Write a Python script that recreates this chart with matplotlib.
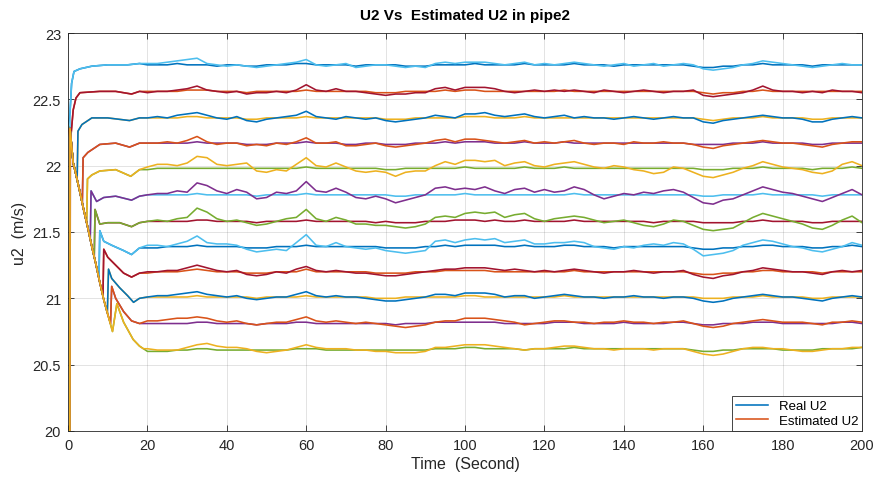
#!/usr/bin/env python3
"""Real vs estimated U2 in pipe2 (MATLAB-style line chart)."""

import numpy as np
import matplotlib
matplotlib.use('Agg')
import matplotlib.pyplot as plt

plt.rcParams['font.family'] = ['Liberation Sans', 'DejaVu Sans']

# MATLAB default colour order
MATLAB_COLORS = ['#0072BD', '#D95319', '#EDB120', '#7E2F8E',
                 '#77AC30', '#4DBEEE', '#A2142F']

# Settled value of each of the 12 velocity pairs (m/s)
LEVELS = [22.76, 22.56, 22.36, 22.17, 21.98, 21.78,
          21.58, 21.39, 21.20, 21.01, 20.82, 20.62]

# Shared falling start-up band (all lower curves ride it before jumping up)
BAND_T = [0, 0.5, 1.3, 1.8, 3, 4, 5, 6, 7, 8, 9, 10]
BAND_V = [22.30, 22.28, 22.02, 21.96, 21.80, 21.66, 21.53, 21.39, 21.26, 21.12, 20.99, 20.88]

# How many band points each level follows before leaving it
DEPART = [1, 1, 3, 5, 6, 7, 8, 9, 10, 11, 12, 12]

# Start-up tail of each level after it leaves the band (t < 20 s)
TAIL_T = [
    [0.5, 0.9, 1.5, 3, 6, 10, 15, 18],
    [0.6, 1.3, 2, 3, 8, 12, 16, 18],
    [2.3, 2.5, 3.5, 6, 10, 15.5, 18],
    [3.6, 3.8, 5, 8, 12, 15.5, 18],
    [4.7, 4.9, 6, 8, 12, 15.8, 18],
    [5.6, 5.8, 7.2, 9, 12, 16, 18],
    [6.6, 6.8, 8, 10, 13, 16, 18],
    [7.8, 8.0, 9, 11, 14, 16, 18],
    [8.8, 9.0, 10, 12, 14, 16, 18],
    [9.9, 10.2, 11, 13, 15, 16.5, 18],
    [10.7, 11.0, 12, 14, 16, 18],
    [11.2, 12.3, 14, 16.4, 18, 19],
]
TAIL_V = [
    [22.40, 22.62, 22.71, 22.73, 22.75, 22.76, 22.76, 22.77],
    [22.18, 22.42, 22.51, 22.55, 22.56, 22.56, 22.54, 22.56],
    [21.90, 22.26, 22.31, 22.36, 22.36, 22.34, 22.36],
    [21.72, 22.06, 22.10, 22.16, 22.17, 22.14, 22.17],
    [21.57, 21.90, 21.93, 21.96, 21.97, 21.92, 21.97],
    [21.45, 21.81, 21.73, 21.76, 21.77, 21.74, 21.77],
    [21.31, 21.67, 21.56, 21.57, 21.57, 21.54, 21.57],
    [21.15, 21.51, 21.43, 21.40, 21.36, 21.33, 21.38],
    [21.02, 21.37, 21.31, 21.25, 21.19, 21.16, 21.19],
    [20.89, 21.22, 21.15, 21.08, 21.02, 20.97, 21.00],
    [20.81, 21.09, 21.00, 20.90, 20.83, 20.81],
    [20.75, 20.96, 20.82, 20.69, 20.64, 20.62],
]

# Estimated curves sit at 20 m/s until the first sample
EST_START_T = [0, 0.45]
EST_START_V = [20.0, 20.0]

# Steady part, sampled every 2.5 s from 20 s to 200 s
STEADY_T = np.arange(20, 200.01, 2.5)

# Deviation from LEVELS in units of 0.01 m/s (real U2)
REAL_DEV = [
    [0, 0, 0, 1, 0, 0, 0, -1, 0, 0, -1, -1, 0, 0, 0, 1, 1, 0, 0, 0,
     0, -1, 0, 0, 0, 0, -1, -1, -1, 0, 0, 0, 0, 1, 0, 0, 0, 0, 1, 0,
     0, 0, 0, 1, 0, 0, 0, -1, 0, 0, 0, 0, 0, 0, 0, -1, -2, -2, -1, -1,
     0, 0, 1, 0, 0, 0, 0, -1, 0, 0, 0, 0, 0],
    [0, 0, 0, 0, 1, 1, 1, 0, 0, 0, -1, 0, 0, 0, 0, 0, 1, 0, 0, 0,
     0, 0, 0, -1, -1, -1, 0, 0, 0, 0, 1, 0, 1, 1, 0, 0, 0, 0, 0, 0,
     0, 0, 1, 0, 0, 0, 0, 0, 0, 0, 0, 0, 0, 0, 0, 0, -1, -2, -1, -1,
     0, 0, 1, 0, 0, 0, 0, 0, 0, 0, 0, 0, 0],
    [0, 0, 0, 0, 1, 1, 0, 0, 0, 0, -1, -1, 0, 0, 0, 0, 1, 0, 0, 0,
     0, 0, 0, 0, -1, -1, -1, 0, 0, 0, 0, 0, 1, 1, 1, 0, 0, 0, 1, 0,
     0, 0, 0, 0, 0, 0, 0, 0, 0, 0, 0, 0, 0, 0, 0, 0, -1, -2, -1, 0,
     0, 0, 1, 0, 0, 0, 0, -1, -1, 0, 0, 0, 0],
    [0, 0, 0, 0, 0, 1, 0, 0, 0, 0, -1, -1, -1, 0, 0, 0, 1, 0, 0, 0,
     -1, -1, 0, 0, -1, -1, -1, 0, 0, 0, 1, 0, 1, 1, 1, 0, 0, 0, 1, 0,
     0, 0, 1, 0, 0, 0, 0, 0, 0, 0, 0, 0, 0, 0, 0, -1, -1, -1, -1, 0,
     0, 0, 1, 0, 0, 0, 0, -1, -1, 0, 0, 0, 0],
    [-1, 0, 0, 0, 0, 0, 0, 0, 0, 0, 0, 0, 0, 0, 0, 0, 1, 0, 0, 0,
     0, 0, 0, 0, -1, -1, 0, 0, 0, 0, 0, 0, 1, 0, 0, 0, 0, 0, 1, 0,
     0, 0, 1, 0, 0, 0, 0, 0, 0, 0, 0, 0, 0, 0, 0, 0, -1, -1, -1, 0,
     0, 0, 1, 0, 0, 0, 0, -1, 0, 0, 0, 1, 0],
    [0, 0, 0, 0, 0, 1, 0, 0, 0, 0, 0, -1, 0, 0, 0, 0, 1, 0, 0, 0,
     0, 0, 0, 0, 0, -1, -1, 0, 0, 0, 0, 0, 1, 0, 0, 0, 0, 0, 0, 0,
     0, 0, 0, 1, 0, 0, 0, 0, 0, 0, 0, 0, 0, 0, 0, 0, -1, -1, 0, 0,
     0, 0, 1, 0, 0, 0, 0, 0, -1, 0, 0, 0, 0],
    [0, 0, 0, 0, 0, 1, 1, 0, 0, 0, 0, -1, 0, 0, 0, 0, 1, 0, 0, 0,
     0, 0, 0, -1, 0, -1, -1, -1, 0, 0, 0, 1, 1, 1, 0, 1, 0, 0, 1, 0,
     0, 0, 0, 1, 0, 0, 0, 0, 0, 0, 0, -1, 0, 0, 0, 0, -1, -1, -1, -1,
     0, 0, 1, 0, 0, 0, 0, -1, -1, 0, 0, 0, 0],
    [-1, -1, 0, 0, 0, 1, 0, 0, 0, 0, -1, -1, -1, 0, 0, 0, 1, 0, 0, 0,
     0, 0, 0, 0, -1, -1, -1, -1, 0, 0, 1, 0, 1, 1, 1, 1, 0, 0, 1, 0,
     0, 0, 1, 1, 0, 0, 0, -1, 0, 0, 0, 0, 0, 0, 0, -1, -2, -2, -1, -1,
     0, 0, 1, 1, 0, 0, 0, -1, -1, 0, 0, 1, 0],
    [-1, 0, 0, 0, 1, 2, 1, 0, 0, 0, -1, -1, -1, 0, 0, 0, 2, 0, 0, 0,
     0, 0, 0, -1, -1, -1, -1, 0, 0, 0, 1, 1, 1, 1, 1, 0, 0, 0, 0, 0,
     0, 0, 0, 1, 0, 0, 0, 0, 0, 0, 0, 0, 0, 0, 0, -1, -2, -2, -1, -1,
     0, 0, 1, 1, 0, 0, 0, 0, -1, 0, 0, 0, 0],
    [0, 0, 0, 0, 0, 1, 0, 0, 0, 0, 0, -1, 0, 0, 0, 0, 1, 0, 0, 0,
     0, 0, 0, -1, -1, -1, 0, 0, 0, 0, 0, 0, 1, 1, 0, 0, 0, 0, 0, 0,
     0, 0, 1, 0, 0, 0, 0, 0, 0, 0, 0, 0, 0, 0, 0, 0, -1, -1, -1, 0,
     0, 0, 1, 0, 0, 0, 0, -1, -1, 0, 0, 0, 0],
    [-1, -1, -1, -1, -1, 0, 0, -1, -1, -1, -1, -2, -1, -1, -1, 0, 0, -1, -1, -1,
     -1, -1, -1, -1, -1, -2, -1, -1, -1, 0, 0, 0, 0, 0, 0, 0, -1, -1, -1, -1,
     -1, 0, 0, 0, -1, -1, -1, -1, 0, -1, -1, -1, -1, 0, 0, -1, -2, -2, -1, -1,
     -1, 0, 0, 0, -1, -1, -1, -1, -1, -1, 0, 0, -1],
    [-2, -2, -2, -1, -1, 0, 0, -1, -1, -1, -1, -1, -1, -1, -1, 0, 0, 0, -1, -1,
     -1, -1, -1, -1, -1, -1, -1, -1, -1, 0, 0, 0, 1, 1, 0, 0, 0, 0, -1, 0,
     0, 0, 0, 1, 0, 0, 0, 0, 0, 0, 0, 0, 0, 0, 0, -1, -2, -2, -1, -1,
     0, 0, 0, 0, -1, -1, -1, -1, 0, 0, 0, 0, 1],
]

# Deviation from LEVELS in units of 0.01 m/s (estimated U2)
EST_DEV = [
    [1, 1, 2, 3, 4, 5, 1, 0, -1, 0, -1, -2, -1, 0, 1, 2, 4, 0, -1, 0,
     1, -2, -1, 0, 0, -1, -2, -1, -2, 1, 2, 1, 2, 2, 2, 1, 0, 1, 2, 0,
     1, 0, 1, 2, 1, 0, -1, 0, 1, -1, 0, 1, -1, 0, 1, 0, -3, -4, -3, -2,
     0, 1, 3, 2, 1, 0, -1, -2, -1, 0, 1, 0, 0],
    [-1, 0, 0, 1, 2, 4, 1, 0, -1, 0, -2, -1, -1, 0, -1, 1, 5, 1, 0, 2,
     0, 0, -1, -2, -3, -2, -2, -1, -1, 2, 3, 1, 3, 3, 3, 2, 0, -1, 0, 1,
     0, 1, 0, 1, 0, -1, 1, 0, -1, 0, 1, 0, -1, 0, 0, 1, -3, -4, -3, -2,
     -1, 1, 4, 1, 0, 0, -1, 0, -1, 1, 0, 0, -1],
    [0, 1, 0, 2, 3, 4, 2, 0, -1, 1, -2, -3, -1, 0, 1, 2, 5, 1, 0, -1,
     1, 0, -1, 0, -2, -3, -2, -1, 0, 2, 1, 0, 3, 3, 4, 2, 1, 2, 3, 1,
     0, 1, 2, 0, 1, 0, 0, -1, 0, 1, 0, -1, 0, 1, 0, 0, -3, -4, -2, -1,
     0, 1, 2, 1, 0, 0, -1, -3, -3, -1, 0, 1, 0],
    [0, 0, 1, 0, 2, 5, 1, -1, 0, 0, -2, -1, -2, 0, -1, 1, 4, 0, 0, 1,
     -2, -2, -1, 0, -2, -3, -2, -1, 0, 2, 3, 1, 3, 3, 2, 1, 0, 1, 2, 0,
     1, 0, 1, 2, 0, -1, 0, 0, -1, 1, 0, 0, 1, 0, 0, -1, -3, -4, -2, -1,
     0, 1, 2, 1, 0, 0, -1, -2, -3, -1, 0, 1, 1],
    [1, 3, 3, 2, 4, 9, 8, 3, 2, 3, 4, -2, -3, -1, -2, 3, 8, 2, 1, 4,
     1, -2, -3, -2, -3, -6, -3, -2, -2, 2, 5, 3, 6, 6, 5, 6, 2, 4, 5, 2,
     1, 3, 4, 5, 3, 1, 0, 2, 1, -1, -2, -4, -3, 1, 0, -3, -6, -7, -5, -3,
     0, 2, 5, 3, 1, 0, -1, -3, -4, -2, 3, 5, 2],
    [0, 1, 1, 3, 2, 9, 7, 3, 1, 4, 2, -3, -2, 2, 1, 3, 10, 3, 2, 5,
     2, -2, -3, -1, -3, -6, -4, -2, 0, 5, 6, 4, 5, 4, 6, 3, 1, 4, 5, 2,
     4, 2, 3, 6, 4, 0, -3, -1, 1, 0, 2, 1, 3, 4, 2, -2, -6, -7, -4, -3,
     0, 3, 6, 4, 2, 1, -1, -3, -5, -2, 1, 4, 0],
    [0, 1, 0, 2, 3, 10, 7, 2, 0, 1, -1, -3, -2, 0, 2, 3, 9, 2, 0, 3,
     1, -2, -2, -3, -3, -4, -5, -4, -2, 3, 4, 3, 6, 7, 6, 7, 3, 5, 6, 2,
     0, 2, 3, 4, 3, 1, -1, 0, 1, -1, -3, -4, -2, 1, 0, -3, -6, -7, -6, -5,
     -1, 3, 6, 4, 2, 0, -2, -5, -6, -3, 1, 4, -1],
    [1, 1, 0, 2, 4, 8, 3, 2, 2, 1, -2, -4, -3, -2, -3, 3, 9, 1, 0, 3,
     0, -1, -2, -1, -3, -4, -5, -4, -3, 4, 5, 3, 5, 6, 5, 6, 3, 4, 5, 2,
     2, 3, 3, 4, 3, 0, -1, -2, 0, -1, 1, 2, 1, 3, 2, -2, -7, -6, -5, -3,
     1, 3, 5, 4, 2, 0, -1, -3, -4, -2, 0, 3, 1],
    [0, 0, 1, 1, 3, 5, 3, 1, 0, 1, -2, -3, -2, 0, -1, 2, 4, 1, 0, 1,
     0, -1, -1, -2, -3, -3, -2, -1, 0, 1, 2, 2, 3, 3, 3, 2, 1, 2, 1, 0,
     1, 0, 1, 2, 1, 0, -1, 0, 0, 1, 0, -1, 0, 0, 1, -2, -4, -5, -3, -2,
     0, 1, 3, 2, 1, 0, 0, -1, -2, 0, 1, 0, 1],
    [0, 1, 1, 2, 3, 4, 2, 1, 0, 1, -1, -2, -1, 0, 0, 2, 4, 1, 0, 1,
     0, 0, -1, -2, -3, -3, -2, -1, 0, 2, 2, 1, 3, 3, 3, 2, 0, 1, 1, -1,
     0, 1, 2, 1, 0, 0, -1, 0, 0, 1, 0, 0, -1, 0, 0, -1, -3, -4, -3, -1,
     0, 1, 2, 1, 0, 0, -1, -2, -3, -1, 0, 1, 0],
    [1, 1, 2, 3, 3, 4, 3, 1, 0, 1, -1, -2, -1, 0, 0, 2, 4, 1, 0, 1,
     0, -1, 0, -1, -2, -3, -4, -3, -2, 0, 1, 1, 3, 3, 3, 2, 1, 0, -2, -1,
     0, 1, 1, 0, 0, -1, 0, 0, 1, 0, 0, -1, 0, 0, 1, -1, -3, -4, -3, -1,
     0, 1, 2, 1, 0, 0, 0, -1, -2, 0, 0, 1, 0],
    [0, -1, -1, -1, 1, 3, 4, 2, 1, 1, 0, -2, -3, -2, -1, 1, 3, 1, 0, 0,
     0, -1, -1, -2, -2, -3, -3, -3, -2, 1, 1, 2, 3, 3, 3, 2, 1, 0, -1, 0,
     0, 1, 2, 2, 1, 0, 0, -1, 0, 0, 0, -1, 0, 0, 0, -2, -4, -5, -4, -2,
     0, 1, 1, 0, 0, -1, -2, -2, -1, 0, 0, 1, 1],
]


def build_curves():
    """Assemble full (t, v) arrays for the real and estimated curves."""
    real, est = [], []
    for k, level in enumerate(LEVELS):
        n = DEPART[k]
        t_start = BAND_T[:n] + TAIL_T[k]
        v_start = BAND_V[:n] + TAIL_V[k]
        t_real = np.concatenate([t_start, STEADY_T])
        v_real = np.concatenate([v_start, level + np.array(REAL_DEV[k]) / 100])
        t_est = np.concatenate([EST_START_T, t_start[1:], STEADY_T])
        v_est = np.concatenate([EST_START_V, v_start[1:],
                                level + np.array(EST_DEV[k]) / 100])
        real.append((t_real, v_real))
        est.append((t_est, v_est))
    return real, est


def main():
    real, est = build_curves()

    fig = plt.figure(figsize=(8.79, 4.81), dpi=100)
    fig.patch.set_facecolor('white')
    ax = fig.add_axes([0.0774, 0.1019, 0.9033, 0.8274])

    # MATLAB plot(t, real, t, est): colours cycle over all 24 lines
    lines = []
    for i, (t, v) in enumerate(real + est):
        ln, = ax.plot(t, v, color=MATLAB_COLORS[i % 7], linewidth=1.15)
        lines.append(ln)

    ax.set_xlim(0, 200)
    ax.set_ylim(20, 23)
    ax.set_xticks(np.arange(0, 201, 20))
    ax.set_yticks(np.arange(20, 23.01, 0.5))
    ax.set_yticklabels(['20', '20.5', '21', '21.5', '22', '22.5', '23'])

    axis_color = '#262626'
    ax.tick_params(direction='in', top=True, right=True, length=4, width=0.6,
                   colors=axis_color, labelsize=10.5, pad=5)
    for spine in ax.spines.values():
        spine.set_color(axis_color)
        spine.set_linewidth(0.6)

    ax.grid(True, color=axis_color, alpha=0.15, linewidth=0.6)
    ax.set_axisbelow(True)

    ax.set_title('U2 Vs  Estimated U2 in pipe2', fontsize=11, fontweight='bold',
                 color='black', pad=10)
    ax.set_xlabel('Time  (Second)', fontsize=11.5, color=axis_color, labelpad=3)
    ax.set_ylabel('u2  (m/s)', fontsize=11.5, color=axis_color, labelpad=4)

    legend = ax.legend(lines[:2], ['Real U2', 'Estimated U2'], loc='lower right',
                       fontsize=9.5, fancybox=False, framealpha=1,
                       borderaxespad=0, handlelength=2.4, borderpad=0.3,
                       labelspacing=0.2)
    legend.get_frame().set_edgecolor(axis_color)
    legend.get_frame().set_linewidth(0.6)

    fig.savefig('out.png', dpi=100)
    plt.close(fig)


if __name__ == '__main__':
    main()
